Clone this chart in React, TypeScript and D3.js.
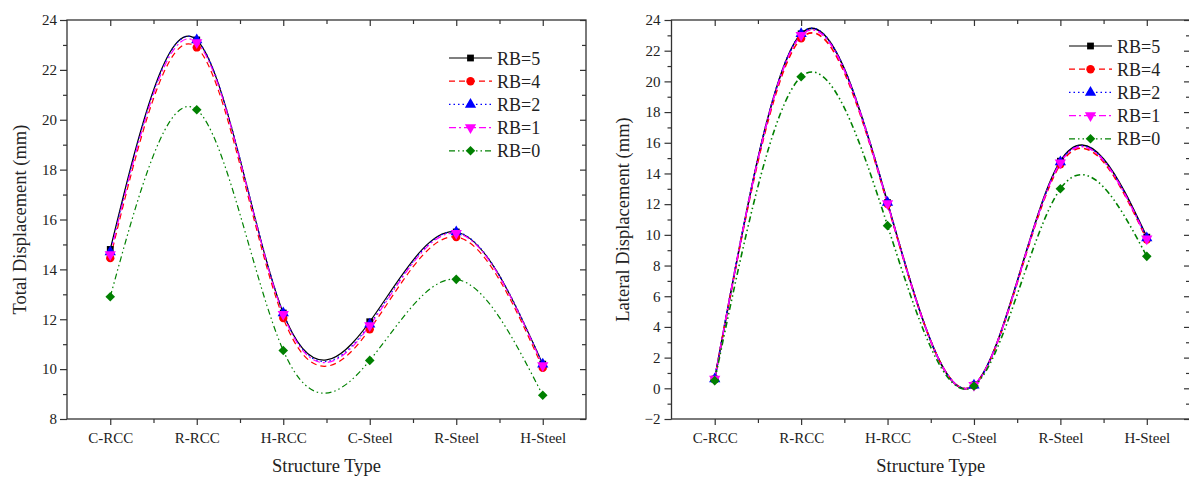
import React, { useEffect, useRef } from 'react';
import * as d3 from 'd3';

// categories and series
const categories = ['C-RCC', 'R-RCC', 'H-RCC', 'C-Steel', 'R-Steel', 'H-Steel'];
const seriesNames = ['RB=5', 'RB=4', 'RB=2', 'RB=1', 'RB=0'];

// total displacement (mm)
const totalRB5 = [14.8, 23.2, 12.25, 11.9, 15.5, 10.2];
const totalRB4 = [14.45, 22.9, 12.05, 11.6, 15.3, 10.05];
const totalRB2 = [14.7, 23.2, 12.25, 11.8, 15.5, 10.2];
const totalRB1 = [14.6, 23.1, 12.2, 11.75, 15.45, 10.15];
const totalRB0 = [12.9, 20.4, 10.75, 10.35, 13.6, 8.95];

// lateral displacement (mm)
const lateralRB5 = [0.6, 23.1, 12.1, 0.2, 14.8, 9.85];
const lateralRB4 = [0.6, 22.8, 12.0, 0.2, 14.6, 9.7];
const lateralRB2 = [0.6, 23.1, 12.1, 0.2, 14.75, 9.8];
const lateralRB1 = [0.6, 23.0, 12.05, 0.2, 14.7, 9.75];
const lateralRB0 = [0.5, 20.3, 10.6, 0.15, 13.0, 8.6];

const totalTicks = [8, 10, 12, 14, 16, 18, 20, 22, 24];
const lateralTicks = [-2, 0, 2, 4, 6, 8, 10, 12, 14, 16, 18, 20, 22, 24];

const styles = [
    { color: '#000000', dash: null, symbol: d3.symbolSquare, rotate: 0, size: 46 },
    { color: '#ff0000', dash: '6,4', symbol: d3.symbolCircle, rotate: 0, size: 55 },
    { color: '#0000ff', dash: '1.5,3', symbol: d3.symbolTriangle, rotate: 0, size: 55 },
    { color: '#ff00ff', dash: '7,3,2,3', symbol: d3.symbolTriangle, rotate: 180, size: 55 },
    { color: '#008000', dash: '6,3,1.5,3,1.5,3', symbol: d3.symbolSquare, rotate: 45, size: 46 },
];

const FONT = '"Liberation Serif", "Times New Roman", serif';

function drawPanel(svg, cfg) {
    const x = d3.scaleLinear().domain([-0.5, 5.5]).range(cfg.xRange);
    const y = d3.scaleLinear().domain(cfg.yDomain).range([419, 20]);
    const g = svg.append('g');

    const majors = cfg.ticks;
    const minors = majors.slice(0, -1).map((t) => t + 1);
    const cats = d3.range(categories.length);
    const halves = d3.range(-0.5, 6, 1);

    // left axis
    g.append('g').attr('transform', `translate(${cfg.xRange[0]},0)`)
        .call(d3.axisLeft(y).tickValues(majors).tickSize(7).tickPadding(cfg.yPad))
        .call((a) => a.select('.domain').remove());
    g.append('g').attr('transform', `translate(${cfg.xRange[0]},0)`)
        .call(d3.axisLeft(y).tickValues(minors).tickSize(4).tickFormat(() => ''))
        .call((a) => a.select('.domain').remove());
    // right axis (inward)
    g.append('g').attr('transform', `translate(${cfg.xRange[1]},0)`)
        .call(d3.axisRight(y).tickValues(majors).tickSize(-6).tickFormat(() => ''))
        .call((a) => a.select('.domain').remove());
    g.append('g').attr('transform', `translate(${cfg.xRange[1]},0)`)
        .call(d3.axisRight(y).tickValues(minors).tickSize(-4).tickFormat(() => ''))
        .call((a) => a.select('.domain').remove());
    // bottom axis
    g.append('g').attr('transform', 'translate(0,419)')
        .call(d3.axisBottom(x).tickValues(cats).tickSize(6).tickPadding(7.5).tickFormat((i) => categories[i]))
        .call((a) => a.select('.domain').remove());
    g.append('g').attr('transform', 'translate(0,419)')
        .call(d3.axisBottom(x).tickValues(halves.slice(1, -1)).tickSize(4).tickFormat(() => ''))
        .call((a) => a.select('.domain').remove());
    // top axis (inward)
    g.append('g').attr('transform', 'translate(0,20)')
        .call(d3.axisTop(x).tickValues(cats).tickSize(-6).tickFormat(() => ''))
        .call((a) => a.select('.domain').remove());
    g.append('g').attr('transform', 'translate(0,20)')
        .call(d3.axisTop(x).tickValues(halves.slice(1, -1)).tickSize(-4).tickFormat(() => ''))
        .call((a) => a.select('.domain').remove());

    g.selectAll('.tick line').attr('stroke', '#333').attr('stroke-width', 1.2);
    g.selectAll('.tick text').attr('font-family', FONT).attr('font-size', 15).attr('fill', '#222');

    // frame
    g.append('rect')
        .attr('x', cfg.xRange[0]).attr('y', 20)
        .attr('width', cfg.xRange[1] - cfg.xRange[0]).attr('height', 399)
        .attr('fill', 'none').attr('stroke', '#333').attr('stroke-width', 1.3);

    // curves
    const line = d3.line().x((_, i) => x(i)).y((d) => y(d)).curve(d3.curveNatural);
    cfg.series.forEach((vals, k) => {
        const s = styles[k];
        g.append('path').datum(vals)
            .attr('d', line).attr('fill', 'none')
            .attr('stroke', s.color).attr('stroke-width', cfg.lw)
            .attr('stroke-dasharray', s.dash);
    });
    cfg.series.forEach((vals, k) => {
        const s = styles[k];
        g.selectAll(null).data(vals).enter().append('path')
            .attr('d', d3.symbol().type(s.symbol).size(s.size)())
            .attr('transform', (d, i) => `translate(${x(i)},${y(d)}) rotate(${s.rotate})`)
            .attr('fill', s.color);
    });

    // legend
    seriesNames.forEach((name, k) => {
        const s = styles[k];
        const ly = cfg.legend.y + k * 23.2;
        g.append('line')
            .attr('x1', cfg.legend.x).attr('x2', cfg.legend.x + 43)
            .attr('y1', ly).attr('y2', ly)
            .attr('stroke', s.color).attr('stroke-width', 1.2)
            .attr('stroke-dasharray', s.dash);
        g.append('path')
            .attr('d', d3.symbol().type(s.symbol).size(s.size)())
            .attr('transform', `translate(${cfg.legend.x + 21.5},${ly}) rotate(${s.rotate})`)
            .attr('fill', s.color);
        g.append('text')
            .attr('x', cfg.legend.x + 48).attr('y', ly + 6.5)
            .attr('font-family', FONT).attr('font-size', 18).attr('fill', '#222')
            .text(name);
    });

    // axis titles
    g.append('text')
        .attr('transform', `translate(${cfg.yTitleX},219.5) rotate(-90)`)
        .attr('text-anchor', 'middle')
        .attr('font-family', FONT).attr('font-size', 18.5).attr('fill', '#222')
        .text(cfg.yTitle);
    g.append('text')
        .attr('x', (cfg.xRange[0] + cfg.xRange[1]) / 2).attr('y', 472)
        .attr('text-anchor', 'middle')
        .attr('font-family', FONT).attr('font-size', 18.5).attr('fill', '#222')
        .text('Structure Type');
}

const App = () => {
    const svgRef = useRef();

    useEffect(() => {
        const svg = d3.select(svgRef.current);
        svg.selectAll('*').remove();

        drawPanel(svg, {
            xRange: [67, 586],
            yDomain: [8, 24],
            ticks: totalTicks,
            yPad: 3,
            lw: 1.2,
            series: [totalRB5, totalRB4, totalRB2, totalRB1, totalRB0],
            legend: { x: 449, y: 58 },
            yTitle: 'Total Displacement (mm)',
            yTitleX: 26,
        });

        drawPanel(svg, {
            xRange: [671.5, 1190],
            yDomain: [-2, 24],
            ticks: lateralTicks,
            yPad: 4,
            lw: 1.6,
            series: [lateralRB5, lateralRB4, lateralRB2, lateralRB1, lateralRB0],
            legend: { x: 1069, y: 46 },
            yTitle: 'Lateral Displacement (mm)',
            yTitleX: 629,
        });
    }, []);

    return (
        <svg
            ref={svgRef}
            width={1189}
            height={477}
            style={{ position: 'absolute', left: 0, top: 0, background: '#fff' }}
        ></svg>
    );
};

export default App;
